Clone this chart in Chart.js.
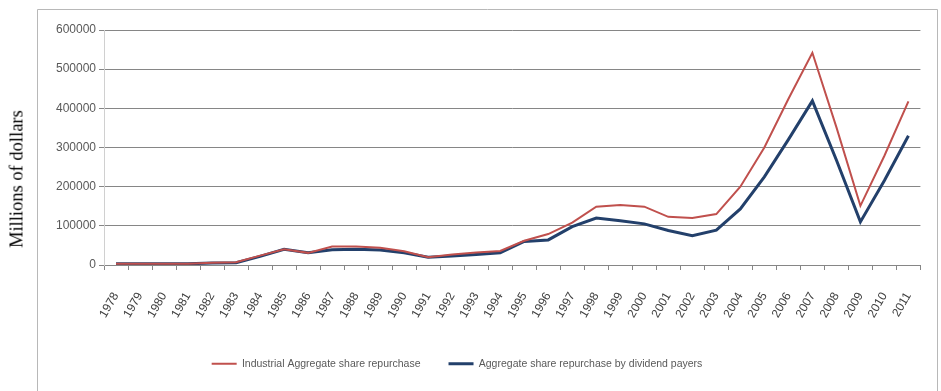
<!DOCTYPE html>
<html>
<head>
<meta charset="utf-8">
<script src="https://cdn.jsdelivr.net/npm/chart.js@4.4.0/dist/chart.umd.min.js"></script>
<style>
  html, body { margin: 0; padding: 0; background: #fff; }
  #wrap { position: relative; width: 941px; height: 391px; overflow: hidden; }
  #chart { position: absolute; left: 0; top: 0; }
  #yTitle {
    position: absolute; left: 17px; top: 179px;
    transform: translate(-50%, -50%) rotate(-90deg);
    font: 18.5px 'Liberation Serif', 'Times New Roman', serif;
    color: #000; white-space: nowrap;
  }
</style>
</head>
<body>
<div id="wrap">
  <canvas id="chart" width="941" height="391"></canvas>
  <div id="yTitle">Millions of dollars</div>
</div>
<script>
// Years on the horizontal axis
const years = [
  '1978', '1979', '1980', '1981', '1982', '1983', '1984', '1985', '1986', '1987',
  '1988', '1989', '1990', '1991', '1992', '1993', '1994', '1995', '1996', '1997',
  '1998', '1999', '2000', '2001', '2002', '2003', '2004', '2005', '2006', '2007',
  '2008', '2009', '2010', '2011'
];

// Industrial aggregate share repurchase (millions of dollars)
const industrialRepurchase = [
  3000, 3000, 3000, 3000, 6000, 7000, 24000, 40000, 31000, 47000,
  47000, 44000, 35000, 20000, 27000, 32000, 36000, 62000, 79000, 108000,
  149000, 153000, 149000, 123000, 120000, 130000, 200000, 300000, 424000, 542000,
  352000, 151000, 279000, 418000
];

// Aggregate share repurchase by dividend payers (millions of dollars)
const dividendPayerRepurchase = [
  3000, 3000, 3000, 3000, 5000, 6000, 22000, 40000, 31000, 39000,
  40000, 38000, 31000, 20000, 23000, 27000, 31000, 60000, 64000, 98000,
  120000, 113000, 105000, 88000, 75000, 89000, 143000, 225000, 320000, 419000,
  268000, 110000, 216000, 330000
];

const seriesNames = [
  'Industrial Aggregate share repurchase',
  'Aggregate share repurchase by dividend payers'
];

// Value axis range
const yMin = 0;
const yMax = 600000;
const yStep = 100000;

const tickFont = { family: "'Liberation Sans', Arial, sans-serif", size: 12 };

// White background plus the thin frame around the chart area
const framePlugin = {
  id: 'frame',
  beforeDraw(chart) {
    const ctx = chart.ctx;
    ctx.save();
    ctx.fillStyle = '#ffffff';
    ctx.fillRect(0, 0, chart.width, chart.height);
    ctx.strokeStyle = '#b8b8b8';
    ctx.lineWidth = 1;
    ctx.beginPath();
    ctx.moveTo(37.5, chart.height);
    ctx.lineTo(37.5, 9.5);
    ctx.lineTo(937.5, 9.5);
    ctx.lineTo(937.5, chart.height);
    ctx.stroke();
    ctx.restore();
  }
};

// Nudge the legend row a little to the left of the canvas centre
const legendOffset = {
  id: 'legendOffset',
  afterLayout(chart) {
    if (chart.legend) {
      chart.legend.left -= 15;
      chart.legend.right -= 15;
    }
  }
};

new Chart(document.getElementById('chart'), {
  type: 'line',
  data: {
    labels: years,
    datasets: [
      {
        label: seriesNames[0],
        data: industrialRepurchase,
        borderColor: '#c0504d',
        backgroundColor: '#c0504d',
        borderWidth: 2,
        pointRadius: 0,
        tension: 0
      },
      {
        label: seriesNames[1],
        data: dividendPayerRepurchase,
        borderColor: '#23406b',
        backgroundColor: '#23406b',
        borderWidth: 3,
        pointRadius: 0,
        tension: 0
      }
    ]
  },
  options: {
    responsive: false,
    animation: false,
    devicePixelRatio: 1,
    layout: { padding: { left: 10, right: 7, top: 30, bottom: 12 } },
    plugins: {
      legend: {
        position: 'bottom',
        labels: {
          usePointStyle: true,
          pointStyle: 'line',
          pointStyleWidth: 25,
          padding: 28,
          color: '#595959',
          font: { family: "'Liberation Sans', Arial, sans-serif", size: 10.5 }
        }
      },
      tooltip: { enabled: false }
    },
    scales: {
      x: {
        type: 'category',
        offset: true,
        grid: {
          offset: true,
          drawOnChartArea: false,
          drawTicks: true,
          tickLength: 5,
          color: '#868686'
        },
        border: { color: '#868686' },
        ticks: {
          autoSkip: false,
          minRotation: 60,
          maxRotation: 60,
          padding: 20,
          color: '#404040',
          font: tickFont
        },
        afterFit(scale) { scale.height = 65.5; }
      },
      y: {
        min: yMin,
        max: yMax,
        ticks: {
          stepSize: yStep,
          padding: 3,
          color: '#595959',
          font: tickFont,
          callback: (value) => String(value)
        },
        grid: {
          color: '#868686',
          tickLength: 5
        },
        border: { color: '#d0d0d0' },
        afterFit(scale) { scale.width = 94; }
      }
    }
  },
  plugins: [framePlugin, legendOffset]
});
</script>
</body>
</html>
